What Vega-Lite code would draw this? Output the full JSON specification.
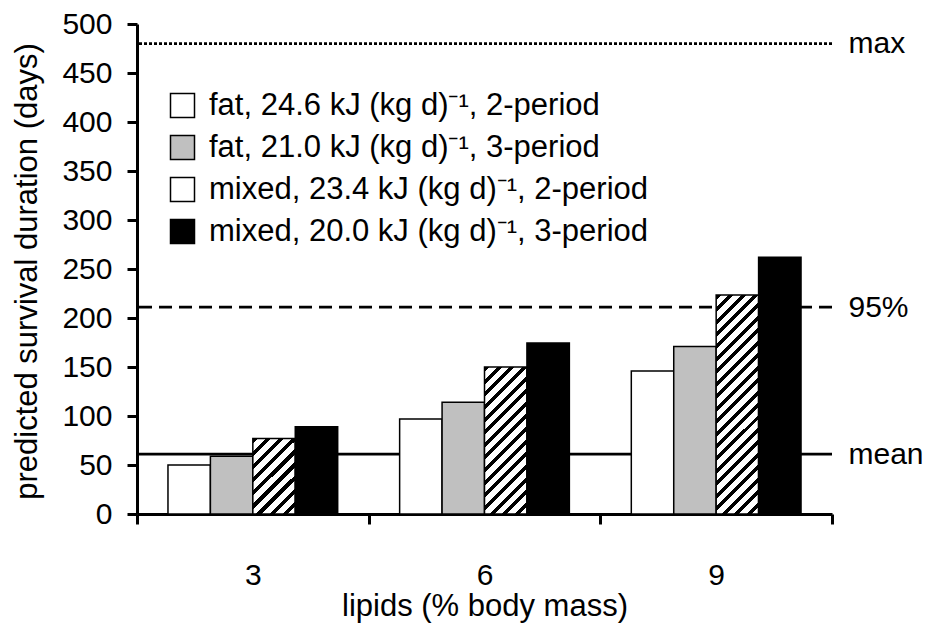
{
  "$schema": "https://vega.github.io/schema/vega-lite/v6.json",
  "width": 695,
  "height": 490,
  "autosize": "none",
  "padding": {"left": 137, "top": 24, "right": 93, "bottom": 112},
  "background": "white",
  "config": {
    "view": {"stroke": null},
    "font": "Liberation Sans",
    "axis": {"domainColor": "black", "tickColor": "black", "labelColor": "black", "titleColor": "black", "grid": false, "titleFontWeight": "normal", "labelFont": "Liberation Sans", "titleFont": "Liberation Sans"},
    "legend": {"labelColor": "black", "labelFont": "Liberation Sans"}
  },
  "layer": [
    {
      "data": {"values": [
        {"line": "max", "days": 480},
        {"line": "95%", "days": 211},
        {"line": "mean", "days": 61}
      ]},
      "mark": {"type": "rule", "strokeWidth": 2.8, "color": "black"},
      "encoding": {
        "y": {"field": "days", "type": "quantitative", "scale": {"domain": [0, 500], "nice": false},
          "axis": {"orient": "right", "values": [480, 211, 61], "labelExpr": "datum.value == 480 ? 'max' : datum.value == 211 ? '95%' : 'mean'", "domain": false, "ticks": false, "labelPadding": 16, "labelFontSize": 30, "title": null}},
        "strokeDash": {"field": "line", "type": "nominal", "scale": {"domain": ["max", "95%", "mean"], "range": [[3, 2], [13, 7], [1, 0]]}, "legend": null}
      }
    },
    {
      "data": {"values": [
        {"lipids": 3, "series": "fat, 24.6 kJ (kg d)⁻¹, 2-period", "days": 50},
        {"lipids": 3, "series": "fat, 21.0 kJ (kg d)⁻¹, 3-period", "days": 59},
        {"lipids": 3, "series": "mixed, 23.4 kJ (kg d)⁻¹, 2-period", "days": 77},
        {"lipids": 3, "series": "mixed, 20.0 kJ (kg d)⁻¹, 3-period", "days": 89},
        {"lipids": 6, "series": "fat, 24.6 kJ (kg d)⁻¹, 2-period", "days": 97},
        {"lipids": 6, "series": "fat, 21.0 kJ (kg d)⁻¹, 3-period", "days": 114},
        {"lipids": 6, "series": "mixed, 23.4 kJ (kg d)⁻¹, 2-period", "days": 150},
        {"lipids": 6, "series": "mixed, 20.0 kJ (kg d)⁻¹, 3-period", "days": 174.5},
        {"lipids": 9, "series": "fat, 24.6 kJ (kg d)⁻¹, 2-period", "days": 146},
        {"lipids": 9, "series": "fat, 21.0 kJ (kg d)⁻¹, 3-period", "days": 171},
        {"lipids": 9, "series": "mixed, 23.4 kJ (kg d)⁻¹, 2-period", "days": 223.5},
        {"lipids": 9, "series": "mixed, 20.0 kJ (kg d)⁻¹, 3-period", "days": 262}
      ]},
      "mark": {"type": "bar", "stroke": "black", "strokeWidth": 1.5},
      "encoding": {
        "x": {"field": "lipids", "type": "ordinal", "scale": {"paddingInner": 0, "paddingOuter": 0},
          "axis": {"tickBand": "extent", "labelAngle": 0, "domainWidth": 3, "tickWidth": 3, "tickSize": 10, "labelFontSize": 30, "labelBaseline": "alphabetic", "labelPadding": 60, "title": "lipids (% body mass)", "titleFontSize": 31, "titleY": 101, "titleBaseline": "alphabetic"}},
        "xOffset": {"field": "series", "type": "nominal", "scale": {"domain": ["fat, 24.6 kJ (kg d)⁻¹, 2-period", "fat, 21.0 kJ (kg d)⁻¹, 3-period", "mixed, 23.4 kJ (kg d)⁻¹, 2-period", "mixed, 20.0 kJ (kg d)⁻¹, 3-period"], "paddingOuter": 0.73, "paddingInner": 0}},
        "y": {"field": "days", "type": "quantitative", "scale": {"domain": [0, 500], "nice": false},
          "axis": {"values": [0, 50, 100, 150, 200, 250, 300, 350, 400, 450, 500], "domainWidth": 3, "tickWidth": 3, "tickSize": 10, "labelFontSize": 30, "labelPadding": 15, "title": "predicted survival duration (days)", "titleFontSize": 31, "titleX": -101, "titleY": 247, "titleAngle": -90, "titleAlign": "center", "titleBaseline": "alphabetic"}},
        "fill": {
          "condition": [
            {"test": "datum.lipids === 3 && indexof(datum.series, 'mixed, 23') === 0", "value": {"gradient": "linear", "x1": 0, "y1": 0, "x2": 0.6652, "y2": 1.1875, "stops": [
              {"offset": 0, "color": "#000000"}, {"offset": 0.04444, "color": "#000000"}, {"offset": 0.04444, "color": "#ffffff"}, {"offset": 0.11111, "color": "#ffffff"},
              {"offset": 0.11111, "color": "#000000"}, {"offset": 0.15556, "color": "#000000"}, {"offset": 0.15556, "color": "#ffffff"}, {"offset": 0.22222, "color": "#ffffff"},
              {"offset": 0.22222, "color": "#000000"}, {"offset": 0.26667, "color": "#000000"}, {"offset": 0.26667, "color": "#ffffff"}, {"offset": 0.33333, "color": "#ffffff"},
              {"offset": 0.33333, "color": "#000000"}, {"offset": 0.37778, "color": "#000000"}, {"offset": 0.37778, "color": "#ffffff"}, {"offset": 0.44444, "color": "#ffffff"},
              {"offset": 0.44444, "color": "#000000"}, {"offset": 0.48889, "color": "#000000"}, {"offset": 0.48889, "color": "#ffffff"}, {"offset": 0.55556, "color": "#ffffff"},
              {"offset": 0.55556, "color": "#000000"}, {"offset": 0.6, "color": "#000000"}, {"offset": 0.6, "color": "#ffffff"}, {"offset": 0.66667, "color": "#ffffff"},
              {"offset": 0.66667, "color": "#000000"}, {"offset": 0.71111, "color": "#000000"}, {"offset": 0.71111, "color": "#ffffff"}, {"offset": 0.77778, "color": "#ffffff"},
              {"offset": 0.77778, "color": "#000000"}, {"offset": 0.82222, "color": "#000000"}, {"offset": 0.82222, "color": "#ffffff"}, {"offset": 0.88889, "color": "#ffffff"},
              {"offset": 0.88889, "color": "#000000"}, {"offset": 0.93333, "color": "#000000"}, {"offset": 0.93333, "color": "#ffffff"}, {"offset": 1, "color": "#ffffff"}
            ]}},
            {"test": "datum.lipids === 6 && indexof(datum.series, 'mixed, 23') === 0", "value": {"gradient": "linear", "x1": 0, "y1": 0, "x2": 0.3431, "y2": 1.1895, "stops": [
              {"offset": 0, "color": "#000000"}, {"offset": 0.02667, "color": "#000000"}, {"offset": 0.02667, "color": "#ffffff"}, {"offset": 0.06667, "color": "#ffffff"},
              {"offset": 0.06667, "color": "#000000"}, {"offset": 0.09333, "color": "#000000"}, {"offset": 0.09333, "color": "#ffffff"}, {"offset": 0.13333, "color": "#ffffff"},
              {"offset": 0.13333, "color": "#000000"}, {"offset": 0.16, "color": "#000000"}, {"offset": 0.16, "color": "#ffffff"}, {"offset": 0.2, "color": "#ffffff"},
              {"offset": 0.2, "color": "#000000"}, {"offset": 0.22667, "color": "#000000"}, {"offset": 0.22667, "color": "#ffffff"}, {"offset": 0.26667, "color": "#ffffff"},
              {"offset": 0.26667, "color": "#000000"}, {"offset": 0.29333, "color": "#000000"}, {"offset": 0.29333, "color": "#ffffff"}, {"offset": 0.33333, "color": "#ffffff"},
              {"offset": 0.33333, "color": "#000000"}, {"offset": 0.36, "color": "#000000"}, {"offset": 0.36, "color": "#ffffff"}, {"offset": 0.4, "color": "#ffffff"},
              {"offset": 0.4, "color": "#000000"}, {"offset": 0.42667, "color": "#000000"}, {"offset": 0.42667, "color": "#ffffff"}, {"offset": 0.46667, "color": "#ffffff"},
              {"offset": 0.46667, "color": "#000000"}, {"offset": 0.49333, "color": "#000000"}, {"offset": 0.49333, "color": "#ffffff"}, {"offset": 0.53333, "color": "#ffffff"},
              {"offset": 0.53333, "color": "#000000"}, {"offset": 0.56, "color": "#000000"}, {"offset": 0.56, "color": "#ffffff"}, {"offset": 0.6, "color": "#ffffff"},
              {"offset": 0.6, "color": "#000000"}, {"offset": 0.62667, "color": "#000000"}, {"offset": 0.62667, "color": "#ffffff"}, {"offset": 0.66667, "color": "#ffffff"},
              {"offset": 0.66667, "color": "#000000"}, {"offset": 0.69333, "color": "#000000"}, {"offset": 0.69333, "color": "#ffffff"}, {"offset": 0.73333, "color": "#ffffff"},
              {"offset": 0.73333, "color": "#000000"}, {"offset": 0.76, "color": "#000000"}, {"offset": 0.76, "color": "#ffffff"}, {"offset": 0.8, "color": "#ffffff"},
              {"offset": 0.8, "color": "#000000"}, {"offset": 0.82667, "color": "#000000"}, {"offset": 0.82667, "color": "#ffffff"}, {"offset": 0.86667, "color": "#ffffff"},
              {"offset": 0.86667, "color": "#000000"}, {"offset": 0.89333, "color": "#000000"}, {"offset": 0.89333, "color": "#ffffff"}, {"offset": 0.93333, "color": "#ffffff"},
              {"offset": 0.93333, "color": "#000000"}, {"offset": 0.96, "color": "#000000"}, {"offset": 0.96, "color": "#ffffff"}, {"offset": 1, "color": "#ffffff"}
            ]}},
            {"test": "datum.lipids === 9 && indexof(datum.series, 'mixed, 23') === 0", "value": {"gradient": "linear", "x1": 0, "y1": 0, "x2": 0.2227, "y2": 1.1505, "stops": [
              {"offset": 0, "color": "#000000"}, {"offset": 0.01905, "color": "#000000"}, {"offset": 0.01905, "color": "#ffffff"}, {"offset": 0.04762, "color": "#ffffff"},
              {"offset": 0.04762, "color": "#000000"}, {"offset": 0.06667, "color": "#000000"}, {"offset": 0.06667, "color": "#ffffff"}, {"offset": 0.09524, "color": "#ffffff"},
              {"offset": 0.09524, "color": "#000000"}, {"offset": 0.11429, "color": "#000000"}, {"offset": 0.11429, "color": "#ffffff"}, {"offset": 0.14286, "color": "#ffffff"},
              {"offset": 0.14286, "color": "#000000"}, {"offset": 0.1619, "color": "#000000"}, {"offset": 0.1619, "color": "#ffffff"}, {"offset": 0.19048, "color": "#ffffff"},
              {"offset": 0.19048, "color": "#000000"}, {"offset": 0.20952, "color": "#000000"}, {"offset": 0.20952, "color": "#ffffff"}, {"offset": 0.2381, "color": "#ffffff"},
              {"offset": 0.2381, "color": "#000000"}, {"offset": 0.25714, "color": "#000000"}, {"offset": 0.25714, "color": "#ffffff"}, {"offset": 0.28571, "color": "#ffffff"},
              {"offset": 0.28571, "color": "#000000"}, {"offset": 0.30476, "color": "#000000"}, {"offset": 0.30476, "color": "#ffffff"}, {"offset": 0.33333, "color": "#ffffff"},
              {"offset": 0.33333, "color": "#000000"}, {"offset": 0.35238, "color": "#000000"}, {"offset": 0.35238, "color": "#ffffff"}, {"offset": 0.38095, "color": "#ffffff"},
              {"offset": 0.38095, "color": "#000000"}, {"offset": 0.4, "color": "#000000"}, {"offset": 0.4, "color": "#ffffff"}, {"offset": 0.42857, "color": "#ffffff"},
              {"offset": 0.42857, "color": "#000000"}, {"offset": 0.44762, "color": "#000000"}, {"offset": 0.44762, "color": "#ffffff"}, {"offset": 0.47619, "color": "#ffffff"},
              {"offset": 0.47619, "color": "#000000"}, {"offset": 0.49524, "color": "#000000"}, {"offset": 0.49524, "color": "#ffffff"}, {"offset": 0.52381, "color": "#ffffff"},
              {"offset": 0.52381, "color": "#000000"}, {"offset": 0.54286, "color": "#000000"}, {"offset": 0.54286, "color": "#ffffff"}, {"offset": 0.57143, "color": "#ffffff"},
              {"offset": 0.57143, "color": "#000000"}, {"offset": 0.59048, "color": "#000000"}, {"offset": 0.59048, "color": "#ffffff"}, {"offset": 0.61905, "color": "#ffffff"},
              {"offset": 0.61905, "color": "#000000"}, {"offset": 0.6381, "color": "#000000"}, {"offset": 0.6381, "color": "#ffffff"}, {"offset": 0.66667, "color": "#ffffff"},
              {"offset": 0.66667, "color": "#000000"}, {"offset": 0.68571, "color": "#000000"}, {"offset": 0.68571, "color": "#ffffff"}, {"offset": 0.71429, "color": "#ffffff"},
              {"offset": 0.71429, "color": "#000000"}, {"offset": 0.73333, "color": "#000000"}, {"offset": 0.73333, "color": "#ffffff"}, {"offset": 0.7619, "color": "#ffffff"},
              {"offset": 0.7619, "color": "#000000"}, {"offset": 0.78095, "color": "#000000"}, {"offset": 0.78095, "color": "#ffffff"}, {"offset": 0.80952, "color": "#ffffff"},
              {"offset": 0.80952, "color": "#000000"}, {"offset": 0.82857, "color": "#000000"}, {"offset": 0.82857, "color": "#ffffff"}, {"offset": 0.85714, "color": "#ffffff"},
              {"offset": 0.85714, "color": "#000000"}, {"offset": 0.87619, "color": "#000000"}, {"offset": 0.87619, "color": "#ffffff"}, {"offset": 0.90476, "color": "#ffffff"},
              {"offset": 0.90476, "color": "#000000"}, {"offset": 0.92381, "color": "#000000"}, {"offset": 0.92381, "color": "#ffffff"}, {"offset": 0.95238, "color": "#ffffff"},
              {"offset": 0.95238, "color": "#000000"}, {"offset": 0.97143, "color": "#000000"}, {"offset": 0.97143, "color": "#ffffff"}, {"offset": 1, "color": "#ffffff"}
            ]}}
          ],
          "field": "series", "type": "nominal",
          "scale": {"domain": ["fat, 24.6 kJ (kg d)⁻¹, 2-period", "fat, 21.0 kJ (kg d)⁻¹, 3-period", "mixed, 23.4 kJ (kg d)⁻¹, 2-period", "mixed, 20.0 kJ (kg d)⁻¹, 3-period"], "range": ["#ffffff", "#c0c0c0", "#ffffff", "#000000"]},
          "legend": {
            "orient": "none", "legendX": 30, "legendY": 66, "title": null, "symbolType": "square", "symbolSize": 576,
            "symbolStrokeColor": "black", "symbolStrokeWidth": 1.5, "labelFontSize": 31, "labelOffset": 11, "rowPadding": 10, "padding": 0, "labelLimit": 800
          }
        }
      }
    }
  ],
  "resolve": {"axis": {"y": "independent"}, "scale": {"y": "shared"}}
}
